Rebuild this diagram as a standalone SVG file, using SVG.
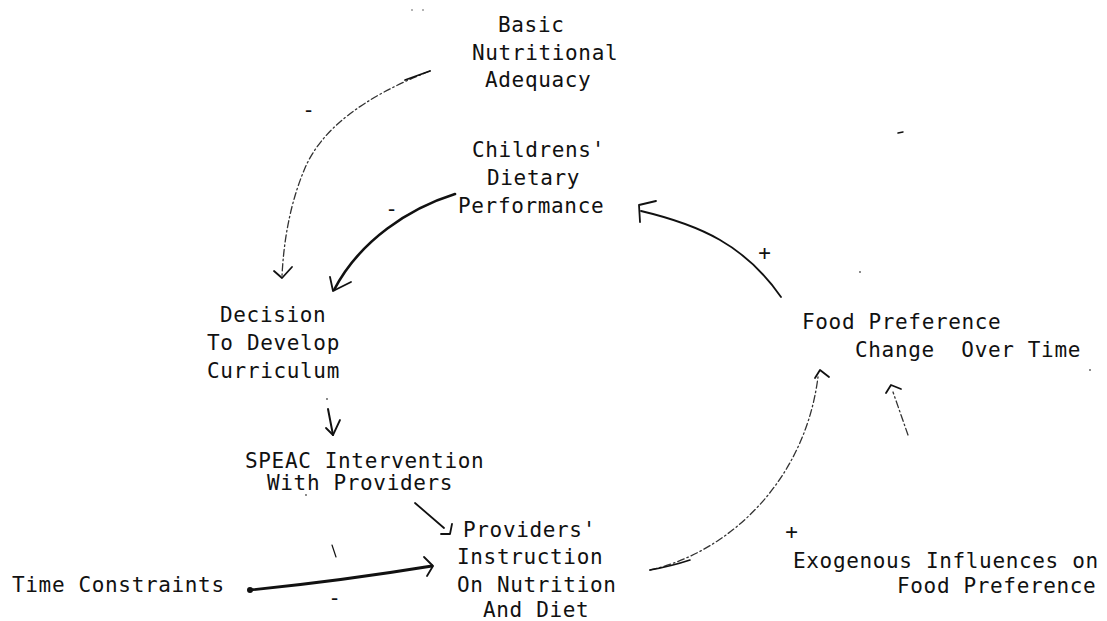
<svg xmlns="http://www.w3.org/2000/svg" width="1107" height="621" viewBox="0 0 1107 621">
<style>
text{font-family:"DejaVu Sans Mono","Liberation Mono",monospace;font-size:21px;letter-spacing:0.65px;fill:#111}
.sign{font-size:21px}
.solid{fill:none;stroke:#111;stroke-linecap:round;stroke-linejoin:round}
.dash{fill:none;stroke:#333;stroke-width:1.3;stroke-dasharray:7 3 1.5 3;stroke-linecap:round}
.head{fill:none;stroke:#111;stroke-width:1.8;stroke-linecap:round;stroke-linejoin:round}
.speck{fill:#555}
</style>
<rect width="1107" height="621" fill="#fff"/>
<g id="connectors">
  <!-- Basic Nutritional Adequacy -> Decision -->
  <path class="dash" d="M430,71 Q330,110 305,168 Q285,215 282,276"/>
  <path class="solid" stroke-width="1.8" d="M405,80 L430,71"/>
  <path class="head" d="M274,271 L282,278 L292,267"/>
  <!-- Childrens' Dietary Performance -> Decision -->
  <path class="solid" stroke-width="2.6" d="M455,194 C410,208 360,240 334,290"/>
  <path class="head" stroke-width="2.2" d="M330,277 L333,291 L351,282"/>
  <!-- Decision -> SPEAC -->
  <circle class="speck" cx="327" cy="399" r="0.9"/>
  <path class="solid" stroke-width="2" d="M328,409 L333,435"/>
  <path class="head" stroke-width="2" d="M326,428 L333,435 L340,420"/>
  <!-- SPEAC -> Providers' Instruction -->
  <path class="solid" stroke-width="1.8" d="M415,503 L444,528"/>
  <path class="head" d="M441,534 L450,534 L452,524"/>
  <!-- Time Constraints -> Providers' Instruction -->
  <circle cx="250" cy="590" r="3" fill="#111"/>
  <path class="solid" stroke-width="2.8" d="M250,590 Q340,581 432,566"/>
  <path class="head" stroke-width="2" d="M424,557 L433,566 L427,576"/>
  <!-- Providers' Instruction -> Food Preference Change -->
  <path class="dash" d="M650,570 C730,552 805,480 818,377"/>
  <path class="solid" stroke-width="1.6" d="M650,570 Q672,566 690,560"/>
  <path class="head" d="M815,378 L820,370 L829,377"/>
  <!-- Exogenous -> Food Preference Change -->
  <path class="dash" d="M908,435 L893,392"/>
  <path class="head" d="M886,393 L891,385 L901,389"/>
  <!-- Food Preference Change -> Childrens' Dietary Performance -->
  <path class="solid" stroke-width="1.8" d="M781,297 C745,245 700,225 641,211"/>
  <path class="head" stroke-width="2" d="M640,222 L639,205 L656,201"/>
  <!-- polarity signs -->
  <text class="sign" x="309" y="117" text-anchor="middle">-</text>
  <text class="sign" x="392" y="216" text-anchor="middle">-</text>
  <text class="sign" x="765" y="260" text-anchor="middle">+</text>
  <text class="sign" x="335" y="605" text-anchor="middle">-</text>
  <text class="sign" x="792" y="539" text-anchor="middle">+</text>
  <!-- stray marks -->
  <path class="solid" stroke-width="1.2" d="M332,545 L336,557"/>
  <circle class="speck" cx="412" cy="10" r="0.8"/>
  <circle class="speck" cx="423" cy="10" r="0.8"/>
  <path class="solid" stroke-width="1.5" d="M898,133 L903,132"/>
  <circle class="speck" cx="860" cy="272" r="0.9"/>
  <circle class="speck" cx="1090" cy="370" r="0.9"/>
  <circle class="speck" cx="306" cy="495" r="0.9"/>
</g>
<g id="node-basic-nutritional-adequacy">
  <text x="498" y="32">Basic</text>
  <text x="472" y="60">Nutritional</text>
  <text x="485" y="87">Adequacy</text>
</g>
<g id="node-childrens-dietary-performance">
  <text x="472" y="157">Childrens'</text>
  <text x="487" y="185">Dietary</text>
  <text x="458" y="213">Performance</text>
</g>
<g id="node-decision">
  <text x="220" y="322">Decision</text>
  <text x="207" y="350">To Develop</text>
  <text x="207" y="378">Curriculum</text>
</g>
<g id="node-speac">
  <text x="245" y="468">SPEAC Intervention</text>
  <text x="267" y="490">With Providers</text>
</g>
<g id="node-providers-instruction">
  <text x="463" y="537">Providers'</text>
  <text x="457" y="564">Instruction</text>
  <text x="457" y="592">On Nutrition</text>
  <text x="483" y="617">And Diet</text>
</g>
<g id="node-time-constraints">
  <text x="12" y="592">Time Constraints</text>
</g>
<g id="node-food-preference-change">
  <text x="802" y="329">Food Preference</text>
  <text x="855" y="357" xml:space="preserve">Change  Over Time</text>
</g>
<g id="node-exogenous">
  <text x="793" y="568">Exogenous Influences on</text>
  <text x="897" y="593">Food Preference</text>
</g>
</svg>
